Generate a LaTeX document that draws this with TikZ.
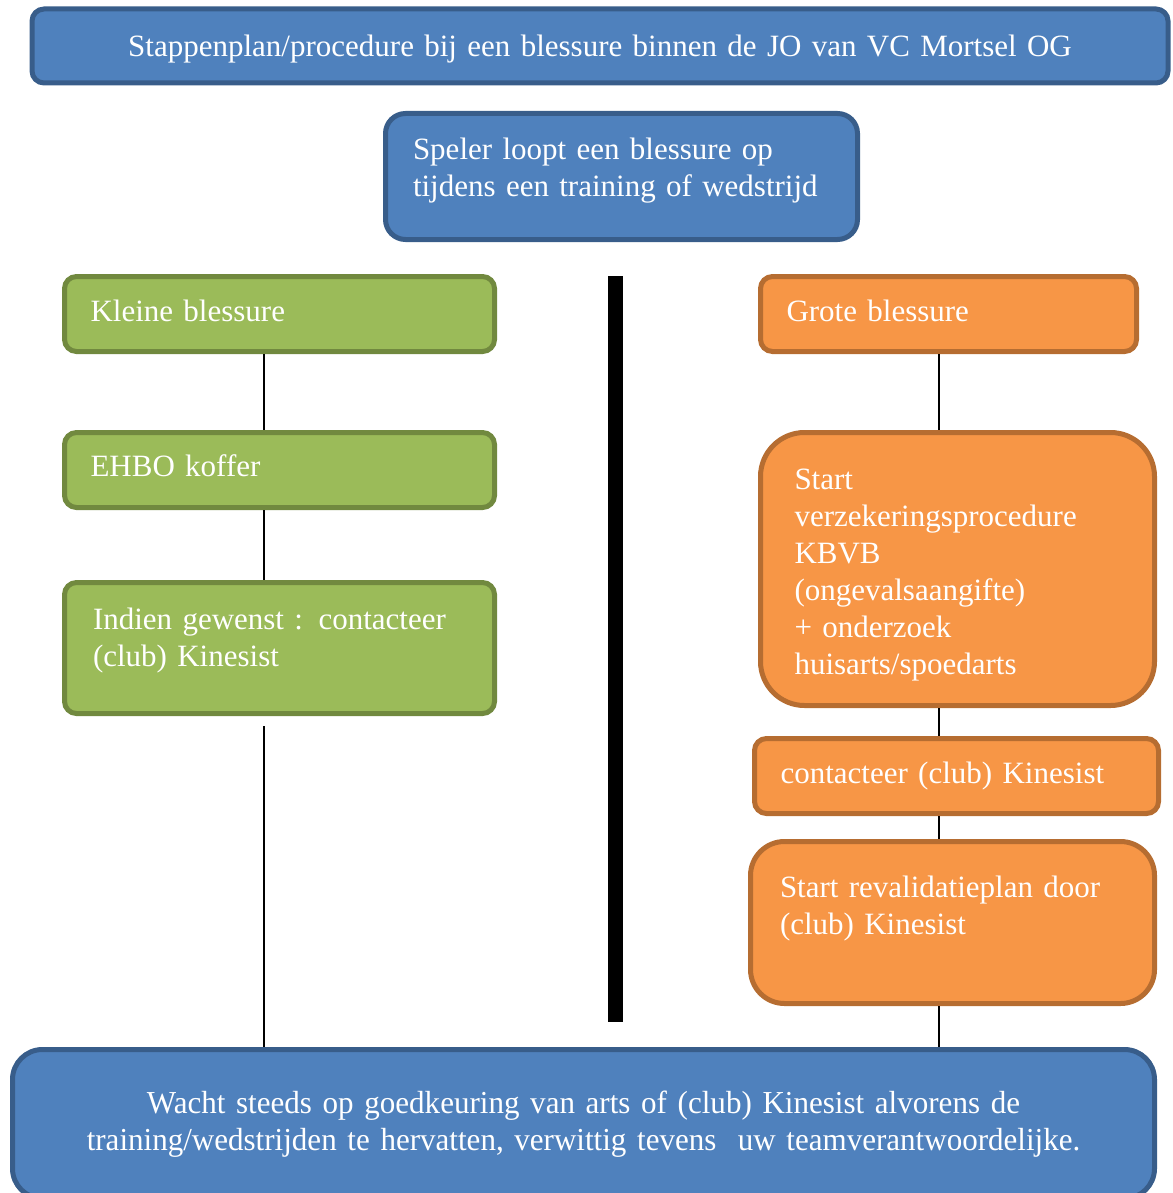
\documentclass[tikz,border=0pt]{standalone}
\usepackage{fontspec}
\setmainfont{Liberation Serif}
\newfontfamily\narrowserif[FakeStretch=0.97]{Liberation Serif}
\definecolor{blueFill}{HTML}{4F81BD}
\definecolor{blueLine}{HTML}{385D8A}
\definecolor{greenFill}{HTML}{9BBB59}
\definecolor{greenLine}{HTML}{71893F}
\definecolor{orangeFill}{HTML}{F79646}
\definecolor{orangeLine}{HTML}{B66D31}
\begin{document}
\begin{tikzpicture}[
      x=0.5pt,y=-0.5pt,
      box/.style={
        draw,rounded corners=6pt,line width=2.5pt,text=white,
        font=\fontsize{15.5}{18.5}\selectfont,align=left,inner xsep=13pt
      },
      bluebox/.style={box,fill=blueFill,draw=blueLine},
      greenbox/.style={box,fill=greenFill,draw=greenLine},
      orangebox/.style={box,fill=orangeFill,draw=orangeLine},
      link/.style={line width=1pt},
    ]
    \useasboundingbox (0,0) rectangle (1172,1193);
    \node[bluebox,align=center,minimum width=568pt,text width=540pt,minimum height=37pt,
      text height=13pt,text depth=2pt] (title) at (600,46)
      {Stappenplan/procedure bij een blessure binnen de JO van VC Mortsel OG};
    \node[bluebox,rounded corners=10pt,minimum width=236pt,inner xsep=13.75pt,text width=208.5pt,
      minimum height=63pt,text depth=28pt] (speler) at (621.5,176.5)
      {Speler loopt een blessure op\\tijdens een training of wedstrijd};
    % kleine blessure
    \node[greenbox,minimum width=215pt,text width=189pt,minimum height=37.5pt,text depth=3pt] (kleine) at (279.5,314) {Kleine blessure};
    \node[greenbox,minimum width=215pt,text width=189pt,minimum height=37.5pt,text depth=4pt] (ehbo) at (279.5,470) {EHBO koffer};
    \node[greenbox,minimum width=215pt,inner xsep=14.25pt,text width=186.5pt,minimum height=65.5pt,
      text depth=29pt] (indien) at (279.5,648) {Indien gewenst : contacteer\\(club) Kinesist};
    % grote blessure
    \node[orangebox,minimum width=188pt,text width=162pt,minimum height=37.5pt,text depth=3pt] (grote) at (948.5,314) {Grote blessure};
    \node[orangebox,rounded corners=22pt,minimum width=197pt,inner xsep=17pt,text width=163pt,
      minimum height=136.5pt,text depth=90pt] (verzek) at (957.5,569)
      {Start\\verzekeringsprocedure\\KBVB\\(ongevalsaangifte)\\+ onderzoek\\huisarts/spoedarts};
    \node[orangebox,minimum width=202pt,text width=176pt,minimum height=37.5pt] (kine) at (956.5,776) {contacteer (club) Kinesist};
    \node[orangebox,rounded corners=17pt,minimum width=202pt,inner xsep=14.75pt,text width=172.5pt,
      minimum height=81pt,text depth=35.5pt] (reva) at (952.5,922.5) {Start revalidatieplan door\\(club) Kinesist};
    \node[bluebox,rounded corners=15pt,align=center,minimum width=571pt,text width=545pt,minimum height=74.5pt,
      font=\narrowserif\fontsize{16}{18.5}\selectfont] (wacht) at (583.5,1124)
      {Wacht steeds op goedkeuring van arts of (club) Kinesist alvorens de\\training/wedstrijden te hervatten, verwittig tevens \ uw teamverantwoordelijke.};
    \coordinate (lcol) at (264,0);
    \coordinate (rcol) at (939,0);
    \coordinate (lfree) at (264,726);
    \draw[link] (kleine.south -| lcol) -- (ehbo.north -| lcol);
    \draw[link] (ehbo.south -| lcol) -- (indien.north -| lcol);
    \draw[link] (lfree) -- (wacht.north -| lfree);
    \draw[link] (grote.south -| rcol) -- (verzek.north -| rcol);
    \draw[link] (verzek.south -| rcol) -- (kine.north -| rcol);
    \draw[link] (kine.south -| rcol) -- (reva.north -| rcol);
    \draw[link] (reva.south -| rcol) -- (wacht.north -| rcol);
    \fill (608,276) rectangle (623,1022);
  \end{tikzpicture}
\end{document}
